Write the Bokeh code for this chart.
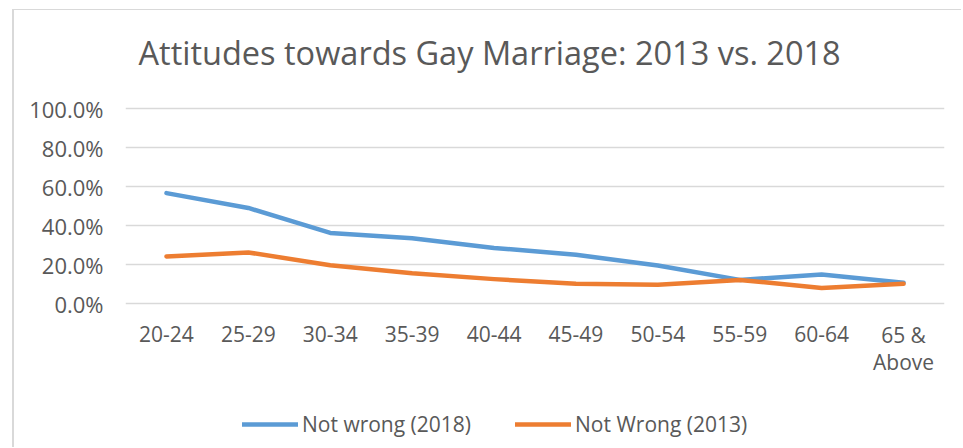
from bokeh.plotting import figure
from bokeh.models import (ColumnDataSource, FactorRange, Range1d, FixedTicker,
                          NumeralTickFormatter, Legend, LegendItem, Label)
from bokeh.core.properties import value
from bokeh.embed import file_html
from bokeh.resources import INLINE

age_groups = ["20-24", "25-29", "30-34", "35-39", "40-44",
              "45-49", "50-54", "55-59", "60-64", "65 &\nAbove"]
not_wrong_2018 = [0.566, 0.490, 0.362, 0.335, 0.285, 0.250, 0.195, 0.121, 0.149, 0.106]
not_wrong_2013 = [0.241, 0.262, 0.196, 0.155, 0.125, 0.101, 0.096, 0.121, 0.080, 0.101]
y_ticks = [0.0, 0.2, 0.4, 0.6, 0.8, 1.0]
title_text = "Attitudes towards Gay Marriage: 2013 vs. 2018"

FONT = "Open Sans"
TXT = "#595959"
GRID = "#d9d9d9"
BLUE = "#5b9bd5"
ORANGE = "#ed7d31"

# label anchor (in y units, below the 0% line); two-line label sits a bit higher
label_y = [-0.114 if "\n" not in a else -0.090 for a in age_groups]

src = ColumnDataSource(dict(age=age_groups, y18=not_wrong_2018, y13=not_wrong_2013,
                            label_y=label_y))

# the frame covers the whole canvas height so that title, category labels
# and legend can live inside it; gridlines/ticks are only drawn for 0..100%
p = figure(width=949, height=438, output_backend="svg", toolbar_location=None,
           x_range=FactorRange(*age_groups), y_range=Range1d(-0.7436, 1.5026),
           min_border_left=111, min_border_right=19, min_border_top=0,
           min_border_bottom=0)
p.styles = {"position": "relative", "left": "12px", "top": "9px",
            "border-left": "2px solid #d9d9d9", "border-top": "1px solid #d9d9d9"}
p.outline_line_color = None
p.background_fill_color = "white"
p.border_fill_color = "white"

r18 = p.line("age", "y18", source=src, line_color=BLUE, line_width=4.5,
             line_cap="round", line_join="round")
r13 = p.line("age", "y13", source=src, line_color=ORANGE, line_width=4.5,
             line_cap="round", line_join="round")

# y axis
p.yaxis.ticker = FixedTicker(ticks=y_ticks)
p.yaxis.formatter = NumeralTickFormatter(format="0.0%")
p.yaxis.axis_line_color = None
p.yaxis.major_tick_line_color = None
p.yaxis.minor_tick_line_color = None
p.yaxis.major_tick_out = 0
p.yaxis.major_tick_in = 0
p.yaxis.major_label_text_font = FONT
p.yaxis.major_label_text_color = TXT
p.yaxis.major_label_text_font_size = "22px"
p.yaxis.major_label_standoff = 22

# x axis (category labels drawn as text glyphs under the plot area)
p.xaxis.visible = False
p.text(x="age", y="label_y", text="age", source=src, text_align="center",
       text_baseline="top", text_font=value(FONT), text_font_size="21px",
       text_color=TXT, text_line_height=0.97)

p.xgrid.grid_line_color = None
p.ygrid.grid_line_color = GRID
p.ygrid.grid_line_width = 1.5
p.ygrid.ticker = FixedTicker(ticks=y_ticks)

# title
p.add_layout(Label(x=13, y=396, x_units="screen", y_units="screen", text=title_text,
                   text_font=FONT, text_font_size="32.5px", text_color=TXT,
                   text_baseline="alphabetic", text_align="left"))

legend = Legend(items=[LegendItem(label="Not wrong (2018)", renderers=[r18]),
                       LegendItem(label="Not Wrong (2013)", renderers=[r13])],
                orientation="horizontal", location=(117, 10),
                glyph_width=56, glyph_height=20, label_standoff=4, spacing=44,
                padding=0, margin=0, border_line_color=None,
                background_fill_alpha=0,
                label_text_font=FONT, label_text_font_size="21px",
                label_text_color=TXT)
p.add_layout(legend, "center")

open("out.html", "w").write(file_html(p, INLINE))
